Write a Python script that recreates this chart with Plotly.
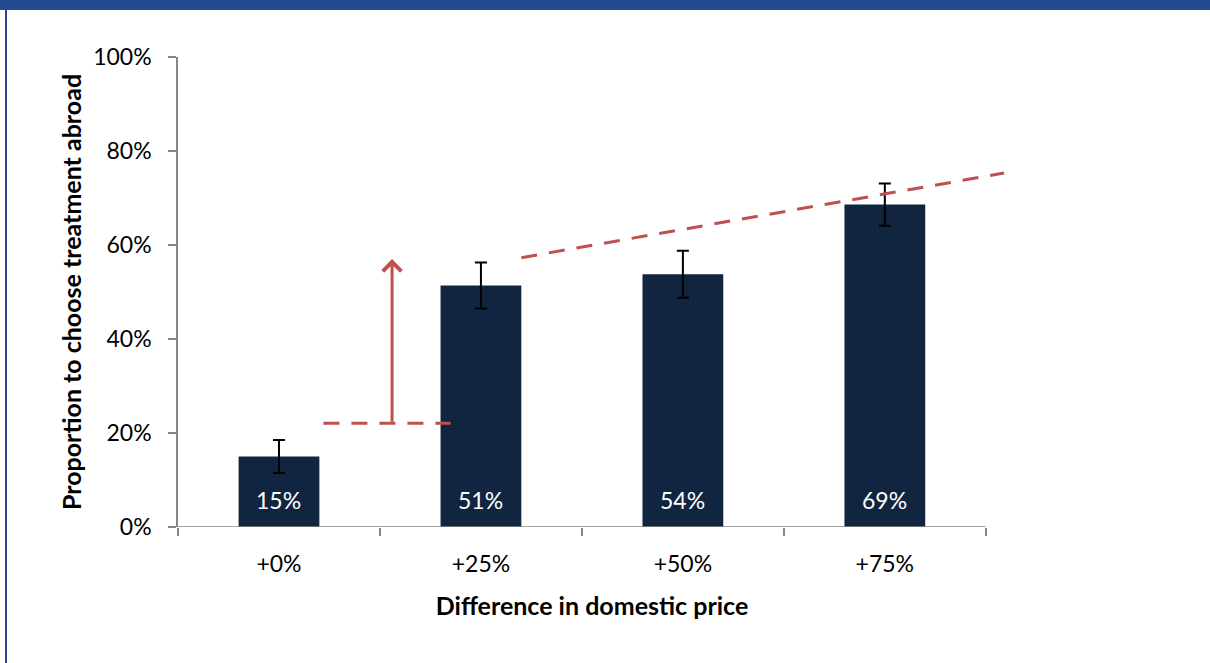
import plotly.graph_objects as go

# data
categories = ["+0%", "+25%", "+50%", "+75%"]
proportion = [15.0, 51.4, 53.8, 68.6]
err = [3.5, 4.9, 5.0, 4.5]
bar_labels = ["15%", "51%", "54%", "69%"]
y_ticks = [0, 20, 40, 60, 80, 100]
y_tick_labels = ["0%", "20%", "40%", "60%", "80%", "100%"]

# red guide lines (category index, percent)
base_x = [0.22, 0.85]
base_y = 22.1
arrow_x = 0.56
arrow_y = [22.1, 57.0]
trend_x = [1.2, 3.59]
trend_y = [57.3, 75.3]

W, H = 1210, 663
L, R, T, B = 178, 204, 57, 136
pw, ph = W - L - R, H - T - B

NAVY = "#112540"
RED = "#c0504d"
FRAME = "#234a8e"
AXIS = "#868686"
FONT = "Lato"

fig = go.Figure()
fig.add_trace(go.Bar(
    x=categories, y=proportion, width=0.4,
    marker=dict(color=NAVY, line=dict(width=0)),
    error_y=dict(type="data", array=err, visible=True,
                 color="black", thickness=2, width=6),
    hoverinfo="skip",
))

shapes = []
# x axis line only over the categories
shapes.append(dict(type="line", xref="x", yref="y", x0=-0.5, x1=3.5, y0=0, y1=0,
                   line=dict(color=AXIS, width=1.5)))
# dashed guide lines
dash = "16px,12px"
shapes.append(dict(type="line", xref="x", yref="y", x0=base_x[0], x1=base_x[1],
                   y0=base_y, y1=base_y, line=dict(color=RED, width=3, dash=dash)))
shapes.append(dict(type="line", xref="x", yref="y", x0=trend_x[0], x1=trend_x[1],
                   y0=trend_y[0], y1=trend_y[1], line=dict(color=RED, width=3, dash=dash)))
# blue frame: top bar and left edge
shapes.append(dict(type="rect", xref="paper", yref="paper", layer="above",
                   x0=-L / pw, x1=(W - L) / pw, y0=(ph + T - 10) / ph, y1=(ph + T) / ph,
                   fillcolor=FRAME, line=dict(width=0)))
shapes.append(dict(type="rect", xref="paper", yref="paper", layer="above",
                   x0=(5 - L) / pw, x1=(7 - L) / pw, y0=-B / ph, y1=(ph + T) / ph,
                   fillcolor=FRAME, line=dict(width=0)))

annotations = []
for c, lab in zip(categories, bar_labels):
    annotations.append(dict(x=c, y=0, xref="x", yref="y", text=lab, showarrow=False,
                            yanchor="bottom", yshift=11,
                            font=dict(family=FONT, size=23, color="white")))
# vertical arrow
annotations.append(dict(x=arrow_x, y=arrow_y[1], ax=arrow_x, ay=arrow_y[0],
                        xref="x", yref="y", axref="x", ayref="y", text="",
                        showarrow=True, arrowhead=4, arrowsize=1.2, arrowwidth=3,
                        arrowcolor=RED))

fig.update_layout(
    width=W, height=H,
    margin=dict(l=L, r=R, t=T, b=B),
    paper_bgcolor="white", plot_bgcolor="white",
    showlegend=False,
    font=dict(family=FONT, size=23, color="black"),
    shapes=shapes, annotations=annotations,
    xaxis=dict(
        type="category", range=[-0.5, 3.6], showline=False, showgrid=False,
        zeroline=False, tickson="boundaries", ticks="outside", ticklen=8,
        tickcolor=AXIS, tickwidth=1.5, ticklabelstandoff=21,
        tickfont=dict(family=FONT, size=23),
        title=dict(text="<b>Difference in domestic price</b>", standoff=21,
                   font=dict(family=FONT, size=25)),
    ),
    yaxis=dict(
        range=[0, 100], tickvals=y_ticks, ticktext=y_tick_labels,
        showline=True, linecolor=AXIS, linewidth=1.5, showgrid=False, zeroline=False,
        ticks="outside", ticklen=8, tickcolor=AXIS, tickwidth=1.5, ticklabelstandoff=12,
        tickfont=dict(family=FONT, size=23),
        title=dict(text="<b>Proportion to choose treatment abroad</b>", standoff=4,
                   font=dict(family=FONT, size=25)),
    ),
)

fig.write_html("out.html", config={"displayModeBar": False},
               post_script="document.body.style.margin='0';")
